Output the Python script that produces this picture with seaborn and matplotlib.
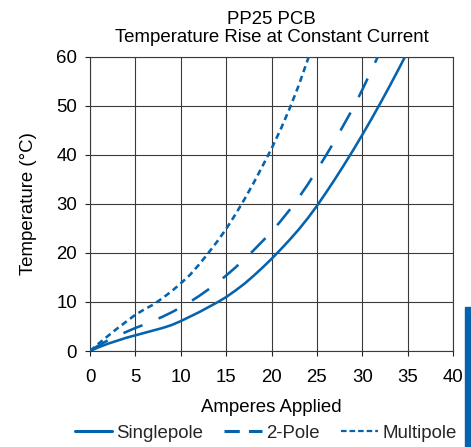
import matplotlib
matplotlib.use("Agg")
import matplotlib.pyplot as plt
from matplotlib.lines import Line2D
from matplotlib.patches import Rectangle
import pandas as pd
import seaborn as sns

# Temperature rise (°C) versus applied current (A) for each pole configuration
single_amps = [0, 1, 2, 3, 4, 5, 6, 7, 8, 9, 10, 11, 12, 13, 14, 15, 16, 17, 18,
               19, 20, 21, 22, 23, 24, 25, 26, 27, 28, 29, 30, 31, 32, 33, 34, 34.7]
single_temp = [0, 0.8, 1.5, 2.1, 2.7, 3.2, 3.7, 4.2, 4.7, 5.3, 6.1, 7.0, 7.9, 8.9,
               9.9, 11.0, 12.3, 13.7, 15.3, 17.0, 18.8, 20.7, 22.7, 24.8, 27.1,
               29.6, 32.3, 35.1, 38.0, 41.0, 44.1, 47.3, 50.6, 54.0, 57.5, 60.0]

two_amps = [0, 1, 2, 3, 4, 5, 6, 7, 8, 9, 10, 11, 12, 13, 14, 15, 16, 17, 18,
            19, 20, 21, 22, 23, 24, 25, 26, 27, 28, 29, 30, 31, 31.7]
two_temp = [0, 1.2, 2.2, 3.1, 3.9, 4.7, 5.4, 6.2, 7.0, 7.9, 8.9, 10.0, 11.2, 12.5,
            13.9, 15.4, 17.0, 18.7, 20.5, 22.4, 24.3, 26.5, 28.8, 31.3, 34.0,
            36.9, 39.9, 43.0, 46.3, 49.6, 53.3, 57.2, 60.0]

multi_amps = [0, 1, 2, 3, 4, 5, 6, 7, 8, 9, 10, 11, 12, 13, 14, 15, 16, 17, 18,
              19, 20, 21, 22, 23, 24, 24.1]
multi_temp = [0, 1.6, 3.1, 4.6, 6.0, 7.4, 8.5, 9.5, 10.8, 12.2, 13.8, 15.5, 17.6,
              19.9, 22.3, 24.9, 27.8, 30.9, 34.2, 37.7, 41.3, 45.2, 49.5, 54.2,
              59.5, 60.0]

series_names = ["Singlepole", "2-Pole", "Multipole"]
x_ticks = [0, 5, 10, 15, 20, 25, 30, 35, 40]
y_ticks = [0, 10, 20, 30, 40, 50, 60]

blue = "#0563ae"

df = pd.concat([
    pd.DataFrame({"amps": single_amps, "temp": single_temp, "series": series_names[0]}),
    pd.DataFrame({"amps": two_amps, "temp": two_temp, "series": series_names[1]}),
    pd.DataFrame({"amps": multi_amps, "temp": multi_temp, "series": series_names[2]}),
], ignore_index=True)

sns.set_theme(style="white")
plt.rcParams["font.family"] = ["Liberation Sans", "DejaVu Sans"]
fs = 13.4

fig = plt.figure(figsize=(4.71, 4.47), dpi=100)
ax = fig.add_axes([90 / 471, 1 - 351 / 447, (453 - 90) / 471, (351 - 57) / 447])

lw = 1.85
dash_map = {"Singlepole": "", "2-Pole": (8, 6.8), "Multipole": (2.4, 1.6)}
sns.lineplot(data=df, x="amps", y="temp", hue="series", style="series",
             hue_order=series_names, style_order=series_names,
             palette=[blue] * 3, dashes=dash_map, linewidth=lw,
             sort=False, estimator=None, ax=ax, legend=False, zorder=3)
for line in ax.lines:
    line.set_solid_joinstyle("round")
    line.set_dash_joinstyle("round")
    line.set_dash_capstyle("butt")

ax.set_xlim(0, 40)
ax.set_ylim(0, 60)
ax.set_xticks(x_ticks)
ax.set_yticks(y_ticks)
ax.grid(True, color="#3a3a3a", linewidth=0.8, zorder=1)
for s in ax.spines.values():
    s.set_color("#3a3a3a")
    s.set_linewidth(0.8)
ax.tick_params(axis="both", which="major", labelsize=fs, colors="#222222",
               length=3.6, width=0.8, direction="out",
               bottom=True, left=True, labelcolor="black")
ax.tick_params(axis="y", pad=5.8)
ax.tick_params(axis="x", pad=9)

ax.set_xlabel("Amperes Applied", fontsize=fs, color="black", labelpad=9.5)
ax.set_ylabel("Temperature (°C)", fontsize=fs, color="black", labelpad=13.5)
ax.set_title("PP25 PCB\nTemperature Rise at Constant Current", fontsize=fs,
             color="black", pad=11, linespacing=1.05)

handles = [
    Line2D([], [], color=blue, lw=2.2, linestyle="-"),
    Line2D([], [], color=blue, lw=2.2, dashes=(5, 3)),
    Line2D([], [], color=blue, lw=1.6, dashes=(2.5, 1.35)),
]
fig.legend(handles, series_names, loc="center", ncol=3,
           bbox_to_anchor=(265.5 / 471, 1 - 433 / 447), frameon=False,
           fontsize=fs, handlelength=2.0, handletextpad=0.22,
           columnspacing=1.15, borderpad=0, borderaxespad=0)

# Accent bar on the right edge
fig.patches.append(Rectangle((465 / 471, 0), 6 / 471, (447 - 307) / 447,
                             transform=fig.transFigure, color=blue, zorder=5))

fig.savefig("out.png", dpi=100)
